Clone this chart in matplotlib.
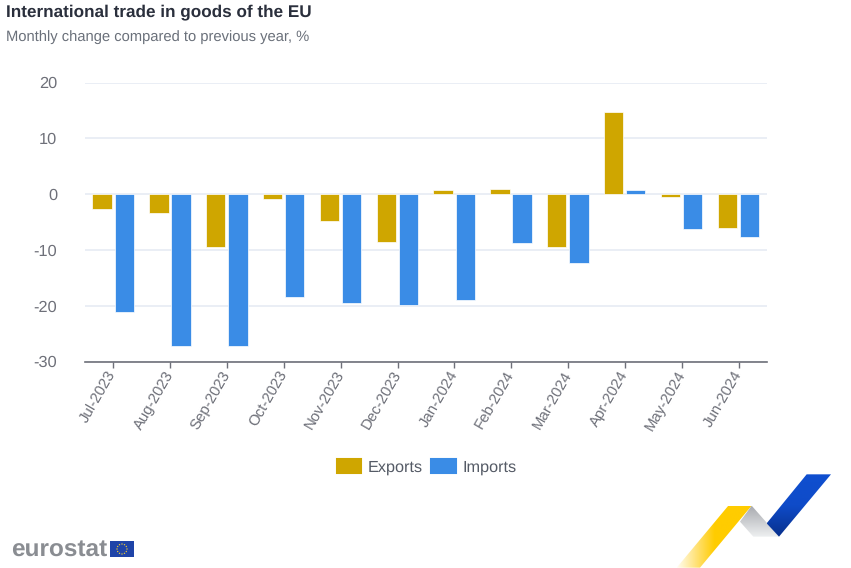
import numpy as np
import matplotlib
matplotlib.use("Agg")
import matplotlib.pyplot as plt
from matplotlib.patches import Polygon, Patch, Rectangle, Circle
from matplotlib.colors import LinearSegmentedColormap

months = ["Jul-2023", "Aug-2023", "Sep-2023", "Oct-2023", "Nov-2023", "Dec-2023",
          "Jan-2024", "Feb-2024", "Mar-2024", "Apr-2024", "May-2024", "Jun-2024"]
exports = [-2.6, -3.3, -9.4, -0.8, -4.8, -8.6, 0.8, 1.0, -9.5, 14.7, -0.5, -6.1]
imports = [-21.1, -27.3, -27.2, -18.4, -19.5, -19.9, -18.9, -8.8, -12.3, 0.8, -6.3, -7.7]
yticks = [-30, -20, -10, 0, 10, 20]

W, H = 851, 568
FONT = "Liberation Sans"
plt.rcParams["font.family"] = [FONT, "DejaVu Sans"]
plt.rcParams["axes.unicode_minus"] = False
plt.rcParams["text.hinting"] = "no_hinting"
GOLD, BLUE, GREY = "#cfa600", "#3a8ce6", "#6e7079"

fig = plt.figure(figsize=(W / 100, H / 100), dpi=100, facecolor="white")
L, R, T, B = 85, 767, 82.5, 361.5
ax = fig.add_axes([L / W, 1 - B / H, (R - L) / W, (B - T) / H])
x = np.arange(len(months))
bw = 0.34
edge = dict(edgecolor="#ffffff", linewidth=0.5)
ax.bar(x - 0.2, exports, bw, color=GOLD, zorder=3, **edge)
ax.bar(x + 0.19, imports, bw, color=BLUE, zorder=3, **edge)
ax.set_xlim(-0.5, len(months) - 0.5)
ax.set_ylim(-30, 20)
ax.set_yticks(yticks)
ax.set_xticks(x)
ax.set_xticklabels(months, rotation=60, ha="right", va="center", rotation_mode="anchor",
                   fontsize=10.8, color=GREY)
ax.tick_params(axis="y", length=0, pad=20, labelsize=11.8, labelcolor=GREY)
ax.tick_params(axis="x", length=4.5, width=1, color="#6e7079", pad=3)
ax.grid(axis="y", color="#e6ebf4", linewidth=1.2, zorder=0)
ax.set_axisbelow(True)
for s in ["top", "left", "right"]:
    ax.spines[s].set_visible(False)
ax.spines["bottom"].set_color("#6e7079")
ax.spines["bottom"].set_linewidth(1.2)

fig.text(6 / W, 1 - 12.5 / H, "International trade in goods of the EU", fontsize=12.3,
         fontweight="bold", color="#2a2f3c", va="center", ha="left")
fig.text(6 / W, 1 - 37.5 / H, "Monthly change compared to previous year, %", fontsize=10.6,
         color="#6a707a", va="center", ha="left")

handles = [Patch(facecolor=GOLD, edgecolor=GOLD, linewidth=1.5, joinstyle="round", label="Exports"),
           Patch(facecolor=BLUE, edgecolor=BLUE, linewidth=1.5, joinstyle="round", label="Imports")]
fig.legend(handles=handles, loc="center", bbox_to_anchor=(426.5 / W, 1 - 467 / H), ncol=2, frameon=False,
           fontsize=11.7, labelcolor="#555b66", handlelength=1.5, handleheight=1.0,
           handletextpad=0.4, columnspacing=0.55, borderpad=0, borderaxespad=0)

# Overlay in pixel coordinates for the logos
ov = fig.add_axes([0, 0, 1, 1], zorder=5)
ov.set_xlim(0, W)
ov.set_ylim(H, 0)
ov.axis("off")
ov.patch.set_alpha(0)

def px(pts):
    return [(670 + a / 3, 465 + b / 3) for a, b in pts]

def ribbon(pts, colors, grad):
    pts = px(pts)
    xs = [p[0] for p in pts]
    ys = [p[1] for p in pts]
    cm = LinearSegmentedColormap.from_list("c", colors)
    g = np.linspace(0, 1, 128)
    arr = np.tile(g, (128, 1)) if grad == "x" else np.tile(g[:, None], (1, 128))
    im = ov.imshow(arr, cmap=cm, extent=[min(xs), max(xs), max(ys), min(ys)], aspect="auto", zorder=2)
    im.set_clip_path(Polygon(pts, transform=ov.transData))

ribbon([(20, 308), (90, 308), (245, 122), (175, 122)],
       ["#fffdf0", "#ffe27a", "#ffcc00", "#ffcc00", "#ffcc00"], "x")
ribbon([(245, 122), (327, 215), (250, 215), (210, 170)], ["#a9abb0", "#eef0f1"], "y")
ribbon([(410, 28), (483, 28), (327, 215), (290, 175)], ["#0f4fd0", "#0f4bc8", "#08308c"], "y")
ov.set_xlim(0, W)
ov.set_ylim(H, 0)

ov.text(11, 550, "eurostat", fontsize=17.6, fontweight="bold", color="#8a8d92", va="center", ha="left")
ov.add_patch(Rectangle((110, 541), 24, 16, facecolor="#1f44a8", edgecolor="none", zorder=3))
for a in np.arange(0, 360, 30):
    ov.add_patch(Circle((122 + 5 * np.cos(np.radians(a)), 549 + 5 * np.sin(np.radians(a))), 0.7,
                        facecolor="#e3c33a", edgecolor="none", zorder=4))

fig.savefig("out.png", dpi=100, facecolor="white")
